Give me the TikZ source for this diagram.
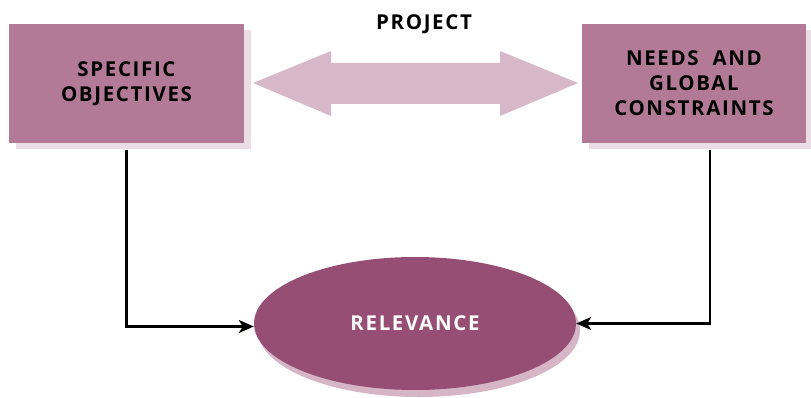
\documentclass[tikz,border=0pt]{standalone}
\usepackage{fontspec}
\setmainfont{Open Sans}
\newfontfamily\lblfont{Open Sans}[LetterSpace=8]
\usetikzlibrary{shadows,arrows.meta,shapes.geometric}
\definecolor{boxc}{RGB}{178,122,151}
\definecolor{boxsh}{RGB}{236,221,229}
\definecolor{ellc}{RGB}{151,78,116}
\definecolor{ellsh}{RGB}{214,181,199}
\definecolor{arrc}{RGB}{214,184,200}
\begin{document}
\begin{tikzpicture}[x=1pt,y=-1pt,
  lbl/.style={font=\lblfont\bfseries\fontsize{20.5}{25}\selectfont, align=center, inner sep=0pt},
  boxn/.style={lbl, fill=boxc, minimum height=119pt,
     drop shadow={fill=boxsh, opacity=1, shadow xshift=7pt, shadow yshift=-6pt}},
  elln/.style={lbl, ellipse, fill=ellc, text=white, minimum width=322pt, minimum height=133pt,
     drop shadow={fill=ellsh, opacity=1, shadow xshift=4pt, shadow yshift=-7pt}},
  conn/.style={draw=black, line width=2.2pt, -{Stealth[length=15pt,width=13pt,inset=4pt]}}
]
\useasboundingbox (0,0) rectangle (811,398);
\node[boxn, minimum width=235pt] (sobj) at (126.5,83.5) {SPECIFIC\\OBJECTIVES};
\node[boxn, minimum width=224pt] (needs) at (694,83.5) {NEEDS\ \ AND\\GLOBAL\\CONSTRAINTS};
\node[lbl] (proj) at (424,24) {PROJECT};
\node[elln] (rel) at (415,323.5) {RELEVANCE};
\fill[arrc] (253,83) -- (331,51) -- (331,63) -- (500,63) -- (500,51) -- (578,83)
  -- (500,116) -- (500,104) -- (331,104) -- (331,116) -- cycle;
\draw[conn] ([yshift=-7pt]sobj.south) |- ([yshift=-3pt]rel.west);
\draw[conn] ([xshift=16pt,yshift=-7pt]needs.south) |- (rel.east);
\end{tikzpicture}
\end{document}
